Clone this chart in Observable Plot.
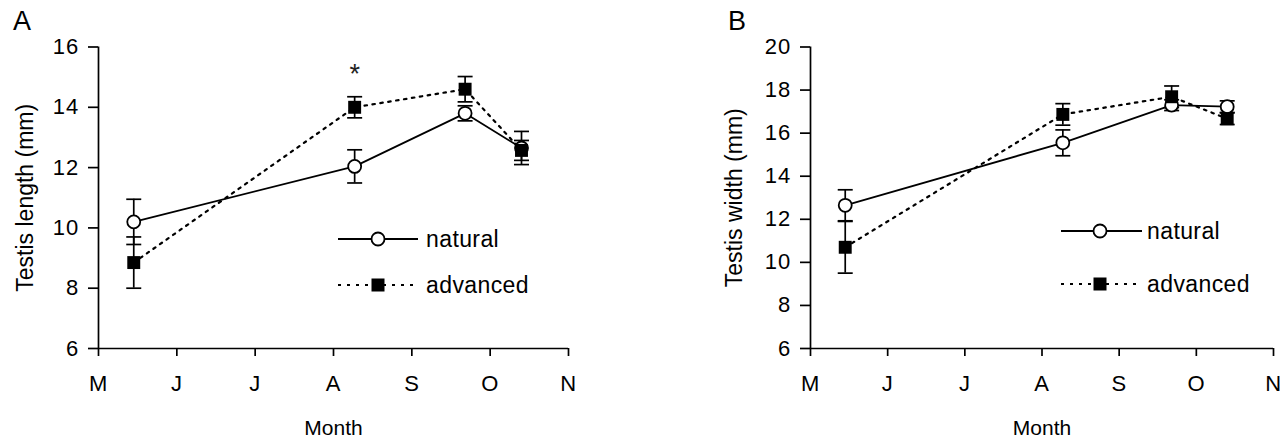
<!DOCTYPE html>
<html><head><meta charset="utf-8">
<script src="https://cdn.jsdelivr.net/npm/d3@7"></script>
<script src="https://cdn.jsdelivr.net/npm/@observablehq/plot@0.6"></script>
<style>
body{margin:0;background:#fff;font-family:"Liberation Sans",Arial,sans-serif;}
#wrap{position:relative;width:1284px;height:437px;display:flex;overflow:hidden;}
.panel{position:relative;width:642px;height:437px;}
.plabel{position:absolute;font-size:27px;line-height:1;color:#000;}
.legend{position:absolute;left:0;top:0;pointer-events:none;}
g[aria-label="y-axis tick label"] text{letter-spacing:1.2px;}
g[aria-label="x-axis tick label"] text{letter-spacing:0.6px;}
.legend text{letter-spacing:0.4px;}
</style></head><body>
<div id="wrap"><div class="panel" id="pa"></div><div class="panel" id="pb"></div></div>
<script>
// ---- data ----
const monthLabels = ["M", "J", "J", "A", "S", "O", "N"];
const sampleMonth = [0.45, 3.27, 4.68, 5.4];
const lengthNatural = [10.2, 12.04, 13.8, 12.65];
const lengthNaturalSE = [0.75, 0.55, 0.25, 0.55];
const lengthAdvanced = [8.85, 14.0, 14.6, 12.57];
const lengthAdvancedSE = [0.85, 0.35, 0.42, 0.33];
const lengthSignificant = [false, true, false, false];
const widthNatural = [12.65, 15.55, 17.3, 17.23];
const widthNaturalSE = [0.72, 0.6, 0.25, 0.27];
const widthAdvanced = [10.7, 16.87, 17.69, 16.67];
const widthAdvancedSE = [1.2, 0.5, 0.5, 0.27];
const seriesNames = ["natural", "advanced"];

function rows(vals, se, sig) {
  return sampleMonth.map((m, i) => ({m, v: vals[i], lo: vals[i] - se[i], hi: vals[i] + se[i], sig: sig ? sig[i] : false}));
}

const capSymbol = {draw(ctx) { ctx.moveTo(-7.5, 0); ctx.lineTo(7.5, 0); }};

function panel({nat, adv, yDomain, yTicks, yLabel, marginLeft, marginRight, labelOffsetY}) {
  const errMarks = (d) => [
    Plot.ruleX(d, {x: "m", y1: "lo", y2: "hi", stroke: "black", strokeWidth: 1.7}),
    Plot.dot(d, {x: "m", y: "hi", symbol: capSymbol, stroke: "black", strokeWidth: 1.7, fill: "none"}),
    Plot.dot(d, {x: "m", y: "lo", symbol: capSymbol, stroke: "black", strokeWidth: 1.7, fill: "none"})
  ];
  return Plot.plot({
    width: 642, height: 437,
    marginLeft, marginRight, marginTop: 46.5, marginBottom: 89,
    style: {fontFamily: "'Liberation Sans', Arial, sans-serif", fontSize: "22px", color: "black", background: "transparent", overflow: "visible"},
    x: {domain: [0, 6]},
    y: {domain: yDomain},
    marks: [
      Plot.axisX({ticks: d3.range(7), tickFormat: i => monthLabels[i], tickSize: 8, tickPadding: 19, strokeWidth: 1.7,
        fontSize: 22, label: null}),
      Plot.axisX({ticks: [], label: "Month", labelAnchor: "center", labelArrow: "none", labelOffset: 86, fontSize: 21}),
      Plot.axisY({ticks: yTicks, tickSize: 10, tickPadding: 9, strokeWidth: 1.7, fontSize: 22, label: null}),
      Plot.axisY({ticks: [], label: yLabel, labelAnchor: "center", labelArrow: "none", labelOffset: labelOffsetY, fontSize: 23}),
      Plot.ruleX([0], {stroke: "black", strokeWidth: 1.7}),
      Plot.ruleY([yDomain[0]], {stroke: "black", strokeWidth: 1.7}),
      Plot.line(nat, {x: "m", y: "v", stroke: "black", strokeWidth: 1.8}),
      Plot.line(adv, {x: "m", y: "v", stroke: "black", strokeWidth: 2.2, strokeDasharray: "2.5,5.5"}),
      ...errMarks(nat),
      ...errMarks(adv),
      Plot.dot(nat, {x: "m", y: "v", r: 6.5, fill: "white", stroke: "black", strokeWidth: 1.8}),
      Plot.dot(adv, {x: "m", y: "v", symbol: "square", r: 7.3, fill: "black", stroke: "none"}),
      Plot.text(adv.filter(d => d.sig), {x: "m", y: "hi", text: () => "*", dy: -22, fontSize: 27, fill: "#222"})
    ]
  });
}

const pa = panel({
  nat: rows(lengthNatural, lengthNaturalSE), adv: rows(lengthAdvanced, lengthAdvancedSE, lengthSignificant),
  yDomain: [6, 16], yTicks: d3.range(6, 17, 2), yLabel: "Testis length (mm)",
  marginLeft: 98, marginRight: 74, labelOffsetY: 82
});
const pb = panel({
  nat: rows(widthNatural, widthNaturalSE), adv: rows(widthAdvanced, widthAdvancedSE),
  yDomain: [6, 20], yTicks: d3.range(6, 21, 2), yLabel: "Testis width (mm)",
  marginLeft: 168, marginRight: 11, labelOffsetY: 84.5
});
document.getElementById("pa").appendChild(pa);
document.getElementById("pb").appendChild(pb);

function addLegend(el, x0, x1, xm, xt, yNat, yAdv) {
  const svg = d3.create("svg").attr("class", "legend").attr("width", 642).attr("height", 437)
    .style("font-family", "'Liberation Sans', Arial, sans-serif").style("font-size", "23px");
  const g1 = svg.append("g");
  g1.append("line").attr("x1", x0).attr("x2", x1).attr("y1", yNat).attr("y2", yNat).attr("stroke", "black").attr("stroke-width", 1.8);
  g1.append("circle").attr("cx", xm).attr("cy", yNat).attr("r", 6.5).attr("fill", "white").attr("stroke", "black").attr("stroke-width", 1.8);
  g1.append("text").attr("x", xt).attr("y", yNat).attr("dy", "0.35em").text(seriesNames[0]);
  const g2 = svg.append("g");
  g2.append("line").attr("x1", x0).attr("x2", x1).attr("y1", yAdv).attr("y2", yAdv).attr("stroke", "black").attr("stroke-width", 2).attr("stroke-dasharray", "3,6");
  g2.append("rect").attr("x", xm - 6.5).attr("y", yAdv - 6.5).attr("width", 13).attr("height", 13).attr("fill", "black");
  g2.append("text").attr("x", xt).attr("y", yAdv).attr("dy", "0.35em").text(seriesNames[1]);
  el.appendChild(svg.node());
}
addLegend(document.getElementById("pa"), 338, 418, 378, 426, 239, 285);
addLegend(document.getElementById("pb"), 419, 500, 458, 505, 231, 284);

function addLabel(el, txt, cx, cy) {
  const d = document.createElement("div");
  d.className = "plabel"; d.textContent = txt;
  d.style.left = (cx - 9) + "px"; d.style.top = (cy - 12) + "px";
  el.appendChild(d);
}
addLabel(document.getElementById("pa"), "A", 22, 20);
addLabel(document.getElementById("pb"), "B", 95, 20);
</script>
</body></html>
